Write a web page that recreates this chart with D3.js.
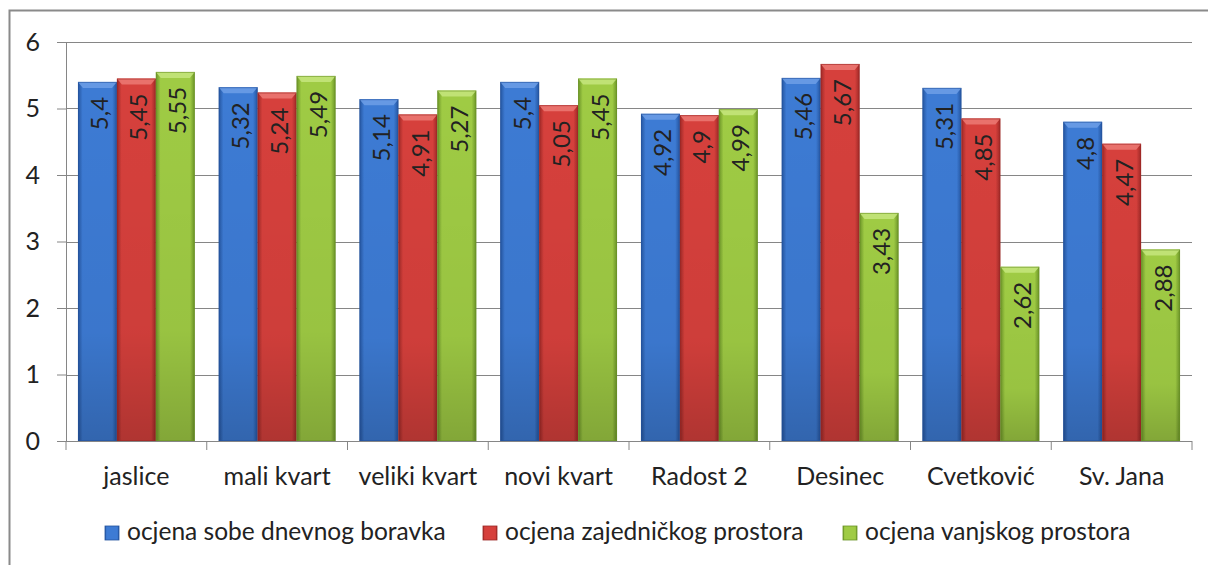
<!DOCTYPE html>
<html>
<head>
<meta charset="utf-8">
<script src="https://cdn.jsdelivr.net/npm/d3@7"></script>
<style>
  body { margin: 0; background: #fff; }
  text { font-family: Lato, "Open Sans", sans-serif; fill: #222; }
</style>
</head>
<body>
<svg id="chart" width="1208" height="565"></svg>
<script>
// data
var categories = ["jaslice", "mali kvart", "veliki kvart", "novi kvart", "Radost 2", "Desinec", "Cvetković", "Sv. Jana"];
var seriesNames = ["ocjena sobe dnevnog boravka", "ocjena zajedničkog prostora", "ocjena vanjskog prostora"];
var sobe = [5.4, 5.32, 5.14, 5.4, 4.92, 5.46, 5.31, 4.8];
var zajednicki = [5.45, 5.24, 4.91, 5.05, 4.9, 5.67, 4.85, 4.47];
var vanjski = [5.55, 5.49, 5.27, 5.45, 4.99, 3.43, 2.62, 2.88];
var yTicks = [0, 1, 2, 3, 4, 5, 6];

// bar colours: [edge, middle, light]
var colors = [
  ["#24549e", "#3d7bd4", "#6d9fe6"],
  ["#9c2826", "#d6403c", "#ec7a74"],
  ["#6a9327", "#9fcb44", "#c6e67e"]
];

var values = [sobe, zajednicki, vanjski];
var svg = d3.select("#chart");
var defs = svg.append("defs");

// outer frame
svg.append("rect")
  .attr("x", 9.5).attr("y", 10.5)
  .attr("width", 1220).attr("height", 580)
  .attr("fill", "#fff")
  .attr("stroke", "#8a8a8a").attr("stroke-width", 2);

var plotLeft = 66, plotRight = 1192, plotTop = 42, plotBottom = 441;

var x0 = d3.scaleBand().domain(categories).range([plotLeft, plotRight])
  .paddingInner(0.17).paddingOuter(0.085);
var x1 = d3.scaleBand().domain([0, 1, 2]).range([0, x0.bandwidth()]).padding(0);
var y = d3.scaleLinear().domain([0, 6]).range([plotBottom, plotTop]);

// gradients
colors.forEach(function(c, i) {
  var g = defs.append("linearGradient").attr("id", "h" + i)
    .attr("x1", 0).attr("x2", 1).attr("y1", 0).attr("y2", 0);
  g.append("stop").attr("offset", "0%").attr("stop-color", c[0]);
  g.append("stop").attr("offset", "12%").attr("stop-color", c[1]);
  g.append("stop").attr("offset", "50%").attr("stop-color", c[1]);
  g.append("stop").attr("offset", "88%").attr("stop-color", c[1]);
  g.append("stop").attr("offset", "100%").attr("stop-color", c[0]);
});
var shade = defs.append("linearGradient").attr("id", "shade")
  .attr("x1", 0).attr("x2", 0).attr("y1", 0).attr("y2", 1);
shade.append("stop").attr("offset", "0%").attr("stop-color", "#000").attr("stop-opacity", 0);
shade.append("stop").attr("offset", "70%").attr("stop-color", "#000").attr("stop-opacity", 0.04);
shade.append("stop").attr("offset", "100%").attr("stop-color", "#000").attr("stop-opacity", 0.18);

// grid lines
svg.append("g")
  .selectAll("line")
  .data(yTicks.slice(1))
  .enter().append("line")
    .attr("x1", plotLeft).attr("x2", plotRight)
    .attr("y1", function(d) { return Math.round(y(d)) + 0.5; })
    .attr("y2", function(d) { return Math.round(y(d)) + 0.5; })
    .attr("stroke", "#868686").attr("stroke-width", 1.2);

// y axis
var yAxis = svg.append("g")
  .attr("transform", "translate(" + plotLeft + ",0)")
  .call(d3.axisLeft(y).tickValues(yTicks).tickSize(9).tickPadding(17).tickFormat(d3.format("d")));
yAxis.select(".domain").attr("stroke", "#868686");
yAxis.selectAll(".tick line").attr("stroke", "#868686");
yAxis.selectAll("text").style("font-size", "25px").attr("fill", "#222");

// bars
var groups = svg.append("g").selectAll("g")
  .data(categories)
  .enter().append("g")
    .attr("transform", function(d) { return "translate(" + x0(d) + ",0)"; });

groups.each(function(cat, ci) {
  var g = d3.select(this);
  [0, 1, 2].forEach(function(si) {
    var v = values[si][ci];
    var bx = x1(si), bw = x1.bandwidth(), by = y(v), bh = y(0) - y(v);
    g.append("rect")
      .attr("x", bx).attr("y", by).attr("width", bw).attr("height", bh)
      .attr("fill", "url(#h" + si + ")");
    g.append("rect")
      .attr("x", bx).attr("y", by).attr("width", bw).attr("height", bh)
      .attr("fill", "url(#shade)");
    // top bevel
    g.append("polygon")
      .attr("points", [[bx, by], [bx + bw, by], [bx + bw - 5, by + 6], [bx + 5, by + 6]].join(" "))
      .attr("fill", colors[si][2]).attr("opacity", 0.85);
    g.append("rect")
      .attr("x", bx + 0.5).attr("y", by + 0.5).attr("width", bw - 1).attr("height", bh - 1)
      .attr("fill", "none").attr("stroke", colors[si][0]).attr("stroke-opacity", 0.6);
    // value label
    var cx = bx + bw / 2 + 11;
    g.append("text")
      .attr("transform", "translate(" + cx + "," + (by + 15) + ") rotate(-90)")
      .attr("text-anchor", "end")
      .style("font-size", "24px")
      .attr("fill", "#151515")
      .text(String(v).replace(".", ","));
  });
});

// x axis
var xAxis = svg.append("g")
  .attr("transform", "translate(0," + plotBottom + ")");
xAxis.append("line")
  .attr("x1", plotLeft).attr("x2", plotRight).attr("y1", 0.5).attr("y2", 0.5)
  .attr("stroke", "#868686").attr("stroke-width", 1.2);
var bounds = categories.map(function(d) { return x0(d) - x0.step() * x0.paddingInner() / 2; }).concat([plotRight]);
xAxis.selectAll(".tk").data(bounds).enter().append("line")
  .attr("x1", function(d) { return d; }).attr("x2", function(d) { return d; })
  .attr("y1", 0).attr("y2", 9).attr("stroke", "#868686");
xAxis.selectAll(".lbl").data(categories).enter().append("text")
  .attr("x", function(d) { return x0(d) + x0.bandwidth() / 2; })
  .attr("y", 44)
  .attr("text-anchor", "middle")
  .style("font-size", "25px")
  .text(function(d) { return d; });

// legend
var legendX = [105, 483, 843];
var legend = svg.append("g").selectAll("g")
  .data(seriesNames)
  .enter().append("g")
    .attr("transform", function(d, i) { return "translate(" + legendX[i] + ",526)"; });
legend.append("rect")
  .attr("width", 14).attr("height", 14)
  .attr("fill", function(d, i) { return "url(#h" + i + ")"; })
  .attr("stroke", function(d, i) { return colors[i][0]; }).attr("stroke-width", 0.8);
legend.append("text")
  .attr("x", 22).attr("y", 14)
  .style("font-size", "24.5px")
  .text(function(d) { return d; });
</script>
</body>
</html>
